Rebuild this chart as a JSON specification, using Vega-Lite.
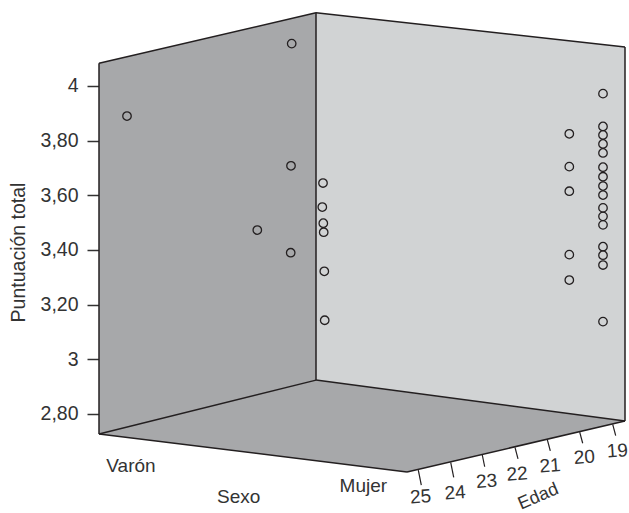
{"$schema":"https://vega.github.io/schema/vega-lite/v6.json","width":530,"height":513,"autosize":"none","padding":{"left":99,"top":0,"right":0,"bottom":0},"background":"white","config":{"view":{"stroke":null},"text":{"font":"Liberation Sans"}},"datasets":{"panels":[{"panel":"izquierda","px":99,"top":4.083,"bottom":2.727},{"panel":"izquierda","px":316,"top":4.268,"bottom":2.924},{"panel":"derecha","px":316,"top":4.268,"bottom":2.924},{"panel":"derecha","px":625,"top":4.143,"bottom":2.774},{"panel":"suelo","px":99,"top":2.727,"bottom":2.727},{"panel":"suelo","px":316,"top":2.924,"bottom":2.629},{"panel":"suelo","px":407,"top":2.88,"bottom":2.588},{"panel":"suelo","px":625,"top":2.774,"bottom":2.774}],"edges":[{"a":99,"b":316,"s":4.083,"e":4.268},{"a":316,"b":625,"s":4.268,"e":4.143},{"a":99,"b":99,"s":4.083,"e":2.727},{"a":316,"b":316,"s":4.268,"e":2.924},{"a":625,"b":625,"s":4.143,"e":2.774},{"a":99,"b":316,"s":2.727,"e":2.924},{"a":316,"b":625,"s":2.924,"e":2.774},{"a":99,"b":407,"s":2.727,"e":2.588},{"a":407,"b":625,"s":2.588,"e":2.774}],"edadTicks":[{"edad":19,"a":612.7,"b":615.7,"s":2.762,"e":2.721,"lx":617.3,"ly":2.665},{"edad":20,"a":579.7,"b":582.7,"s":2.734,"e":2.693,"lx":584.3,"ly":2.642},{"edad":21,"a":547.3,"b":550.3,"s":2.706,"e":2.665,"lx":550,"ly":2.611},{"edad":22,"a":515,"b":518,"s":2.678,"e":2.636,"lx":517,"ly":2.58},{"edad":23,"a":482.3,"b":484.7,"s":2.65,"e":2.607,"lx":486.7,"ly":2.554},{"edad":24,"a":450.7,"b":453.7,"s":2.623,"e":2.568,"lx":455,"ly":2.512},{"edad":25,"a":418.3,"b":421.3,"s":2.595,"e":2.54,"lx":420.7,"ly":2.497}],"names":[{"t":"Varón","lx":131,"ly":2.61},{"t":"Sexo","lx":238.7,"ly":2.495},{"t":"Mujer","lx":363.3,"ly":2.538}],"points":[{"px":291.7,"puntuacion":4.155},{"px":127,"puntuacion":3.89},{"px":291,"puntuacion":3.708},{"px":257.3,"puntuacion":3.473},{"px":290.7,"puntuacion":3.39},{"px":323,"puntuacion":3.645},{"px":322.3,"puntuacion":3.557},{"px":323.3,"puntuacion":3.498},{"px":323.7,"puntuacion":3.465},{"px":324.3,"puntuacion":3.322},{"px":324.7,"puntuacion":3.143},{"px":569.3,"puntuacion":3.825},{"px":569.3,"puntuacion":3.705},{"px":569.3,"puntuacion":3.615},{"px":569.3,"puntuacion":3.383},{"px":569.3,"puntuacion":3.29},{"px":603,"puntuacion":3.972},{"px":603,"puntuacion":3.852},{"px":603,"puntuacion":3.821},{"px":603,"puntuacion":3.788},{"px":603,"puntuacion":3.755},{"px":603,"puntuacion":3.703},{"px":603,"puntuacion":3.668},{"px":603,"puntuacion":3.634},{"px":603,"puntuacion":3.601},{"px":603,"puntuacion":3.554},{"px":603,"puntuacion":3.523},{"px":603,"puntuacion":3.492},{"px":603,"puntuacion":3.412},{"px":603,"puntuacion":3.381},{"px":603,"puntuacion":3.345},{"px":603,"puntuacion":3.138}]},"layer":[{"data":{"name":"panels"},"mark":{"type":"area","interpolate":"linear","opacity":1},"encoding":{"x":{"field":"px","type":"quantitative","scale":{"domain":[99,629],"nice":false,"zero":false},"axis":null},"y":{"field":"top","type":"quantitative","stack":null,"scale":{"domain":[2.4378,4.3146],"nice":false,"zero":false},"axis":{"title":"Puntuación total","titleFont":"Liberation Sans","titleFontSize":19.5,"titleFontWeight":"normal","titleColor":"#333333","titleX":-71,"titleY":252,"labelFont":"Liberation Sans","labelFontSize":19.5,"labelColor":"#333333","labelPadding":9,"tickSize":12,"tickWidth":1.5,"tickColor":"#333333","domain":false,"grid":false,"values":[2.8,3,3.2,3.4,3.6,3.8,4],"labelExpr":"datum.value==4?'4':datum.value==3?'3':replace(format(datum.value,'.2f'),'.',',')"}},"y2":{"field":"bottom"},"color":{"field":"panel","type":"nominal","legend":null,"scale":{"domain":["izquierda","derecha","suelo"],"range":["#a7a8aa","#d1d3d4","#a7a8aa"]}}}},{"data":{"name":"edges"},"mark":{"type":"rule","color":"#231f20","strokeWidth":1.5},"encoding":{"x":{"field":"a","type":"quantitative"},"x2":{"field":"b"},"y":{"field":"s","type":"quantitative"},"y2":{"field":"e"}}},{"data":{"name":"edadTicks"},"mark":{"type":"rule","color":"#231f20","strokeWidth":1.2},"encoding":{"x":{"field":"a","type":"quantitative"},"x2":{"field":"b"},"y":{"field":"s","type":"quantitative"},"y2":{"field":"e"}}},{"data":{"name":"edadTicks"},"mark":{"type":"text","fontSize":19,"color":"#333333","angle":-4,"baseline":"middle","align":"center"},"encoding":{"x":{"field":"lx","type":"quantitative"},"y":{"field":"ly","type":"quantitative"},"text":{"field":"edad","type":"nominal"}}},{"data":{"name":"names"},"mark":{"type":"text","fontSize":19,"color":"#333333","baseline":"middle","align":"center"},"encoding":{"x":{"field":"lx","type":"quantitative"},"y":{"field":"ly","type":"quantitative"},"text":{"field":"t","type":"nominal"}}},{"data":{"values":[{"t":"Edad","lx":538.3,"ly":2.497}]},"mark":{"type":"text","fontSize":18,"color":"#333333","angle":-23,"baseline":"middle","align":"center"},"encoding":{"x":{"field":"lx","type":"quantitative"},"y":{"field":"ly","type":"quantitative"},"text":{"field":"t","type":"nominal"}}},{"data":{"name":"points"},"mark":{"type":"point","filled":false,"size":72,"strokeWidth":1.3,"color":"#231f20","opacity":1},"encoding":{"x":{"field":"px","type":"quantitative"},"y":{"field":"puntuacion","type":"quantitative"}}}]}
